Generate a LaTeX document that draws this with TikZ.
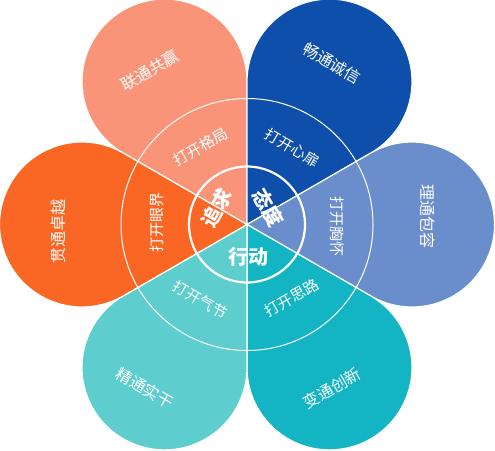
\documentclass[tikz,border=0pt]{standalone}
\usepackage{fontspec}
\newfontfamily\cjk{Noto Sans CJK SC}
\definecolor{pSalmon}{HTML}{FA9478}
\definecolor{pDark}{HTML}{0D4FAA}
\definecolor{pMid}{HTML}{6A8ECC}
\definecolor{pTeal}{HTML}{13B5C5}
\definecolor{pLight}{HTML}{5ECDCD}
\definecolor{pOrange}{HTML}{FA6725}
\begin{document}
\begin{tikzpicture}[x=1pt,y=1pt,
  petal/.style={draw=white,line width=1.2pt},
  outertxt/.style={text=white,font=\cjk\fontsize{16}{16}\selectfont,inner sep=0pt},
  ringtxt/.style={text=white,font=\cjk\fontsize{15}{15}\selectfont,inner sep=0pt},
  innertxt/.style={text=white,font=\cjk\bfseries\fontsize{20}{20}\selectfont,inner sep=0pt}]
\useasboundingbox (0,0) rectangle (495,450);
\coordinate (C) at (247,225.5);
\foreach \a/\col in {120/pSalmon,60/pDark,0/pMid,-60/pTeal,-120/pLight,180/pOrange}{
  \filldraw[petal,fill=\col] (C) -- ++(\a-30:142.89)
    arc[start angle=\a-120,end angle=\a+120,radius=82.5] -- cycle;
}
\draw[white,line width=1pt] (C) circle[radius=126];
\draw[white,line width=2.2pt] (C) circle[radius=58];
% outer texts
\node[outertxt,rotate=30]  (o1) at (150,380) {联通共赢};
\node[outertxt,rotate=-30] (o2) at (332,387) {畅通诚信};
\node[outertxt,rotate=-90] (o3) at (428,233) {理通包容};
\node[outertxt,rotate=30]  (o4) at (332,62)  {变通创新};
\node[outertxt,rotate=-30] (o5) at (145,62)  {精通实干};
\node[outertxt,rotate=90]  (o6) at (58,218)  {贯通卓越};
% ring texts
\node[ringtxt,rotate=30]  (r1) at (201,303) {打开格局};
\node[ringtxt,rotate=-30] (r2) at (292,302) {打开心扉};
\node[ringtxt,rotate=-90] (r3) at (337,223) {打开胸怀};
\node[ringtxt,rotate=30]  (r4) at (292,152) {打开思路};
\node[ringtxt,rotate=-30] (r5) at (200,150) {打开气节};
\node[ringtxt,rotate=90]  (r6) at (157,227) {打开眼界};
% inner texts
\node[innertxt,rotate=60]  (i1) at (217,242) {追求};
\node[innertxt,rotate=-60] (i2) at (268,242) {态度};
\node[innertxt]            (i3) at (248,193) {行动};
\end{tikzpicture}
\end{document}
